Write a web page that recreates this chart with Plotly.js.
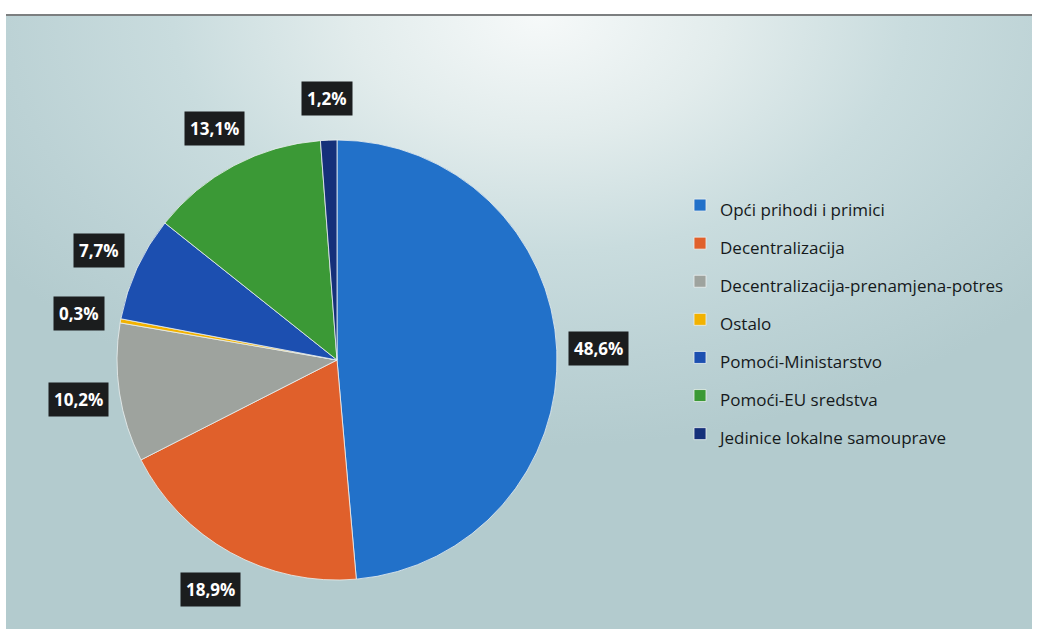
<!DOCTYPE html>
<html>
<head>
<meta charset="utf-8">
<script src="https://cdn.plot.ly/plotly-3.0.1.min.js"></script>
<style>
  html, body { margin: 0; padding: 0; background: #ffffff; }
  #wrap { position: relative; width: 1038px; height: 629px; overflow: hidden; background: #ffffff; }
  #bg { position: absolute; left: 6px; top: 14px; width: 1026px; height: 615px;
        border-top: 2px solid #7c7f80;
        background: radial-gradient(ellipse 65% 70% at 52% 0%, #f6f9f9 0%, #e2ecec 28%, #c9dcde 55%, #bcd2d5 80%, #b3cbce 100%); }
  #chart { position: absolute; left: 0; top: 0; width: 1038px; height: 629px; }
</style>
</head>
<body>
<div id="wrap">
  <div id="bg"></div>
  <div id="chart"></div>
</div>
<script>
// ---- data ----
var categories = [
  "Opći prihodi i primici",
  "Decentralizacija",
  "Decentralizacija-prenamjena-potres",
  "Ostalo",
  "Pomoći-Ministarstvo",
  "Pomoći-EU sredstva",
  "Jedinice lokalne samouprave"
];
var shares = [48.6, 18.9, 10.2, 0.3, 7.7, 13.1, 1.2];
var valueLabels = ["48,6%", "18,9%", "10,2%", "0,3%", "7,7%", "13,1%", "1,2%"];
var sliceColors = ["#2271c9", "#e0602b", "#9ea39e", "#f2b200", "#1c4fb0", "#3b9936", "#15307a"];

// ---- layout geometry ----
var W = 1038, H = 629;
var cx = 337, cy = 360, R = 220;
var domX = [(cx - R) / W, (cx + R) / W];
var domY = [(H - cy - R) / H, (H - cy + R) / H];

// label annotations placed along slice mid-angles
var total = shares.reduce(function (a, b) { return a + b; }, 0);
var annotations = [];
var cum = 0;
for (var i = 0; i < shares.length; i++) {
  var mid = (cum + shares[i] / 2) / total * 2 * Math.PI;
  cum += shares[i];
  var rr = R * 1.19;
  var px = cx + rr * Math.sin(mid);
  var py = cy - rr * Math.cos(mid);
  annotations.push({
    xref: "paper", yref: "paper",
    x: px / W, y: (H - py) / H,
    xanchor: "center", yanchor: "middle",
    text: "<b>" + valueLabels[i] + "</b>",
    showarrow: false,
    bgcolor: "#1b1d1e",
    borderpad: 5,
    font: { family: "Open Sans, sans-serif", size: 17, color: "#ffffff" }
  });
}

var legendLabels = categories.map(function (c) {
  return '<span style="font-size:17px">' + c + '</span>';
});

var trace = {
  type: "pie",
  labels: legendLabels,
  values: shares,
  sort: false,
  direction: "clockwise",
  rotation: 0,
  textinfo: "none",
  hoverinfo: "label+percent",
  marker: { colors: sliceColors, line: { color: "rgba(235,240,240,0.8)", width: 1 } },
  domain: { x: domX, y: domY }
};

var layout = {
  width: W, height: H,
  margin: { l: 0, r: 0, t: 0, b: 0 },
  paper_bgcolor: "rgba(0,0,0,0)",
  plot_bgcolor: "rgba(0,0,0,0)",
  showlegend: true,
  legend: {
    x: 680 / W, xanchor: "left",
    y: (H - 181) / H, yanchor: "top",
    bgcolor: "rgba(0,0,0,0)",
    font: { family: "Open Sans, sans-serif", size: 27, color: "#15191b" },
    itemclick: false, itemdoubleclick: false
  },
  annotations: annotations
};

Plotly.newPlot("chart", [trace], layout, { displayModeBar: false, staticPlot: true });
</script>
</body>
</html>
